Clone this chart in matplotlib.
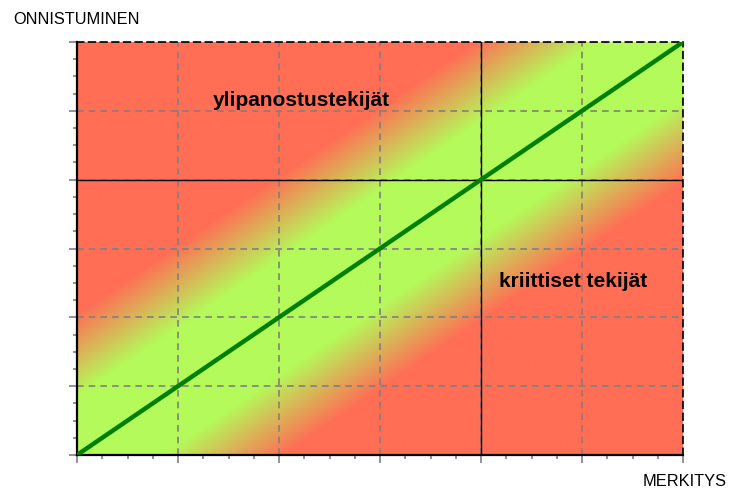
import numpy as np
import matplotlib
matplotlib.use("Agg")
import matplotlib.pyplot as plt
from matplotlib.ticker import MultipleLocator

plt.rcParams['font.family'] = ['Liberation Sans', 'DejaVu Sans']

# axis range and quadrant split
x_max = 6
y_max = 6
split_x = 4
split_y = 4

# diagonal "balance" line
diag_x = [0, 6]
diag_y = [0, 6]

# band colours
green = np.array([180, 250, 90]) / 255.0
red = np.array([255, 110, 85]) / 255.0
band_inner = 0.85   # pure green up to this distance from diagonal
band_outer = 2.05   # pure red beyond this

labels = ["ylipanostustekijät", "kriittiset tekijät"]
label_pos = [(2.22, 5.17), (4.91, 2.53)]

fig = plt.figure(figsize=(7.29, 4.89), dpi=100)
ax = fig.add_axes([77 / 729, 33 / 489, 606 / 729, 413 / 489])

# background gradient
gx, gy = np.meshgrid(np.linspace(0, x_max, 800), np.linspace(0, y_max, 600))
d = np.abs(gy - gx)
t = np.clip((d - band_inner) / (band_outer - band_inner), 0, 1)[..., None]
img = green * (1 - t) + red * t
ax.imshow(img, extent=[0, x_max, 0, y_max], origin='lower', aspect='auto',
          interpolation='bilinear', zorder=0)

ax.set_xlim(0, x_max)
ax.set_ylim(0, y_max)

ax.xaxis.set_major_locator(MultipleLocator(1))
ax.yaxis.set_major_locator(MultipleLocator(1))
ax.xaxis.set_minor_locator(MultipleLocator(0.25))
ax.yaxis.set_minor_locator(MultipleLocator(0.25))
ax.grid(True, which='major', color='#808080', linestyle=(0, (4, 3)), linewidth=1.2, zorder=1)
ax.tick_params(which='major', length=6, color='#808080', width=1.2, labelleft=False, labelbottom=False)
ax.tick_params(which='minor', length=3, color='#808080', width=1.2)

ax.axvline(split_x, color='black', linewidth=1, zorder=2)
ax.axhline(split_y, color='black', linewidth=1, zorder=2)

ax.plot(diag_x, diag_y, color='#008000', linewidth=3.2, zorder=3)

for s in ['left', 'bottom']:
    ax.spines[s].set_linewidth(1.6)
    ax.spines[s].set_color('black')
for s in ['top', 'right']:
    ax.spines[s].set_linewidth(1.2)
    ax.spines[s].set_linestyle((0, (4, 3)))
    ax.spines[s].set_color('black')

for txt, (lx, ly) in zip(labels, label_pos):
    ax.text(lx, ly, txt, fontsize=15, fontweight='bold', ha='center', va='center', zorder=4)

fig.text(13 / 729, 1 - 19 / 489, "ONNISTUMINEN", fontsize=11.8, ha='left', va='center')
fig.text(1 - 2 / 729, 1 - 482 / 489, "MERKITYS", fontsize=11.8, ha='right', va='center')

fig.savefig("out.png", dpi=100)
